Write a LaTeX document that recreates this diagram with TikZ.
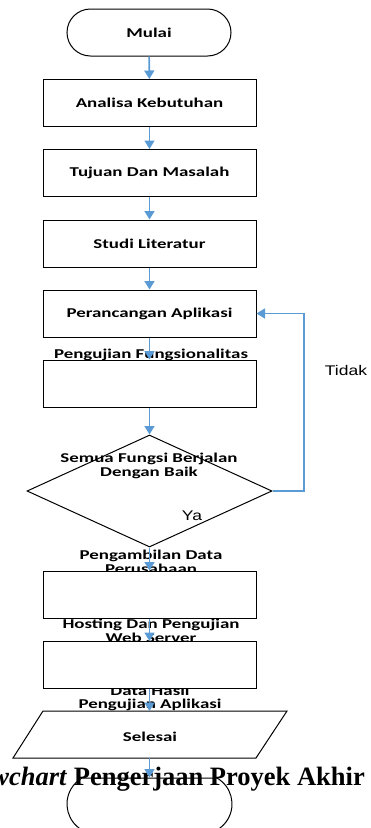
\documentclass[tikz,border=0pt]{standalone}
\usepackage{fontspec}
\usetikzlibrary{shapes.geometric,shapes.misc,arrows.meta}
\newfontfamily\lbl{Carlito}[FakeStretch=1.4]
\newfontfamily\lblr{Liberation Sans}[FakeStretch=1.25]
\newfontfamily\capf{Liberation Serif}
\definecolor{flowblue}{RGB}{91,155,213}
\tikzset{
  stepbox/.style={draw=black, line width=1pt, fill=white, rectangle, minimum width=213pt, minimum height=47pt, inner sep=0pt, font=\lbl\bfseries\fontsize{13.5}{14}\selectfont},
  term/.style={draw=black, line width=1pt, rounded rectangle, inner sep=0pt, font=\lbl\bfseries\fontsize{13.5}{14}\selectfont},
  lab/.style={inner sep=0pt, align=center, font=\lbl\bfseries\fontsize{13.5}{14}\selectfont},
  ans/.style={inner sep=0pt, font=\lblr\fontsize{14}{16}\selectfont},
  flow/.style={draw=flowblue, line width=1.6pt, -{Triangle[width=10pt,length=8.5pt]}},
}
\begin{document}
\begin{tikzpicture}[x=1pt,y=-1pt]
\useasboundingbox (0,0) rectangle (371,828);
% labels that sit outside their shapes (drawn first, behind)
\node[lab] (lfung) at (151,355) {Pengujian Fungsionalitas};
\node[lab] (lamb) at (151,562) {Pengambilan Data\\Perusahaan};
\node[lab] (lhost) at (151,630.5) {Hosting Dan Pengujian\\Web Server};
\node[lab, font=\lbl\bfseries\fontsize{13.5}{13}\selectfont] (ldata) at (150,698) {Data Hasil\\Pengujian Aplikasi};
\node[anchor=base east, inner sep=0pt, font=\capf\bfseries\fontsize{26.5}{30}\selectfont] (cap) at (365,785) {\textit{Flowchart} Pengerjaan Proyek Akhir};
% shapes
\node[term, minimum width=164pt, minimum height=47pt] (mulai) at (149,32.5) {Mulai};
\node[stepbox] (ana) at (149.5,103) {Analisa Kebutuhan};
\node[stepbox] (tuj) at (149.5,173) {Tujuan Dan Masalah};
\node[stepbox] (stu) at (149.5,243.5) {Studi Literatur};
\node[stepbox] (per) at (149.5,313.5) {Perancangan Aplikasi};
\node[stepbox] (uji) at (149.5,383.5) {};
\node[draw=black, line width=1pt, diamond, minimum width=245pt, minimum height=112pt, inner sep=0pt] (dia) at (149.5,491) {};
\node[lab] (ldia) at (149,465.5) {Semua Fungsi Berjalan\\Dengan Baik};
\node[stepbox] (amb) at (149.5,594.5) {};
\node[stepbox] (host) at (149.5,665) {};
\draw[line width=1pt, fill=white] (13,758) -- (43,711) -- (287,711) -- (256,758) -- cycle;
\coordinate (seltop) at (149.5,711);
\coordinate (selbot) at (149.5,758);
\node[lab] (sel) at (150,737) {Selesai};
\node[term, rounded rectangle arc length=120, minimum width=165pt, minimum height=52pt] (selesai) at (149.5,804) {};
% answers
\node[ans] (tidak) at (346,370) {Tidak};
\node[ans] (ya) at (192,516) {Ya};
% connectors
\draw[flow] (mulai) -- (ana);
\draw[flow] (ana) -- (tuj);
\draw[flow] (tuj) -- (stu);
\draw[flow] (stu) -- (per);
\draw[flow] (per) -- (uji);
\draw[flow] (uji) -- (dia.north);
\draw[flow] (dia.south) -- (amb);
\draw[flow] (amb) -- (host);
\draw[flow] (host) -- (seltop);
\draw[flow] (selbot) -- (selesai.north);
\coordinate (fb) at (304,313.5);
\draw[flow] (dia.east) -| (fb) -- (per.east);
\end{tikzpicture}
\end{document}
